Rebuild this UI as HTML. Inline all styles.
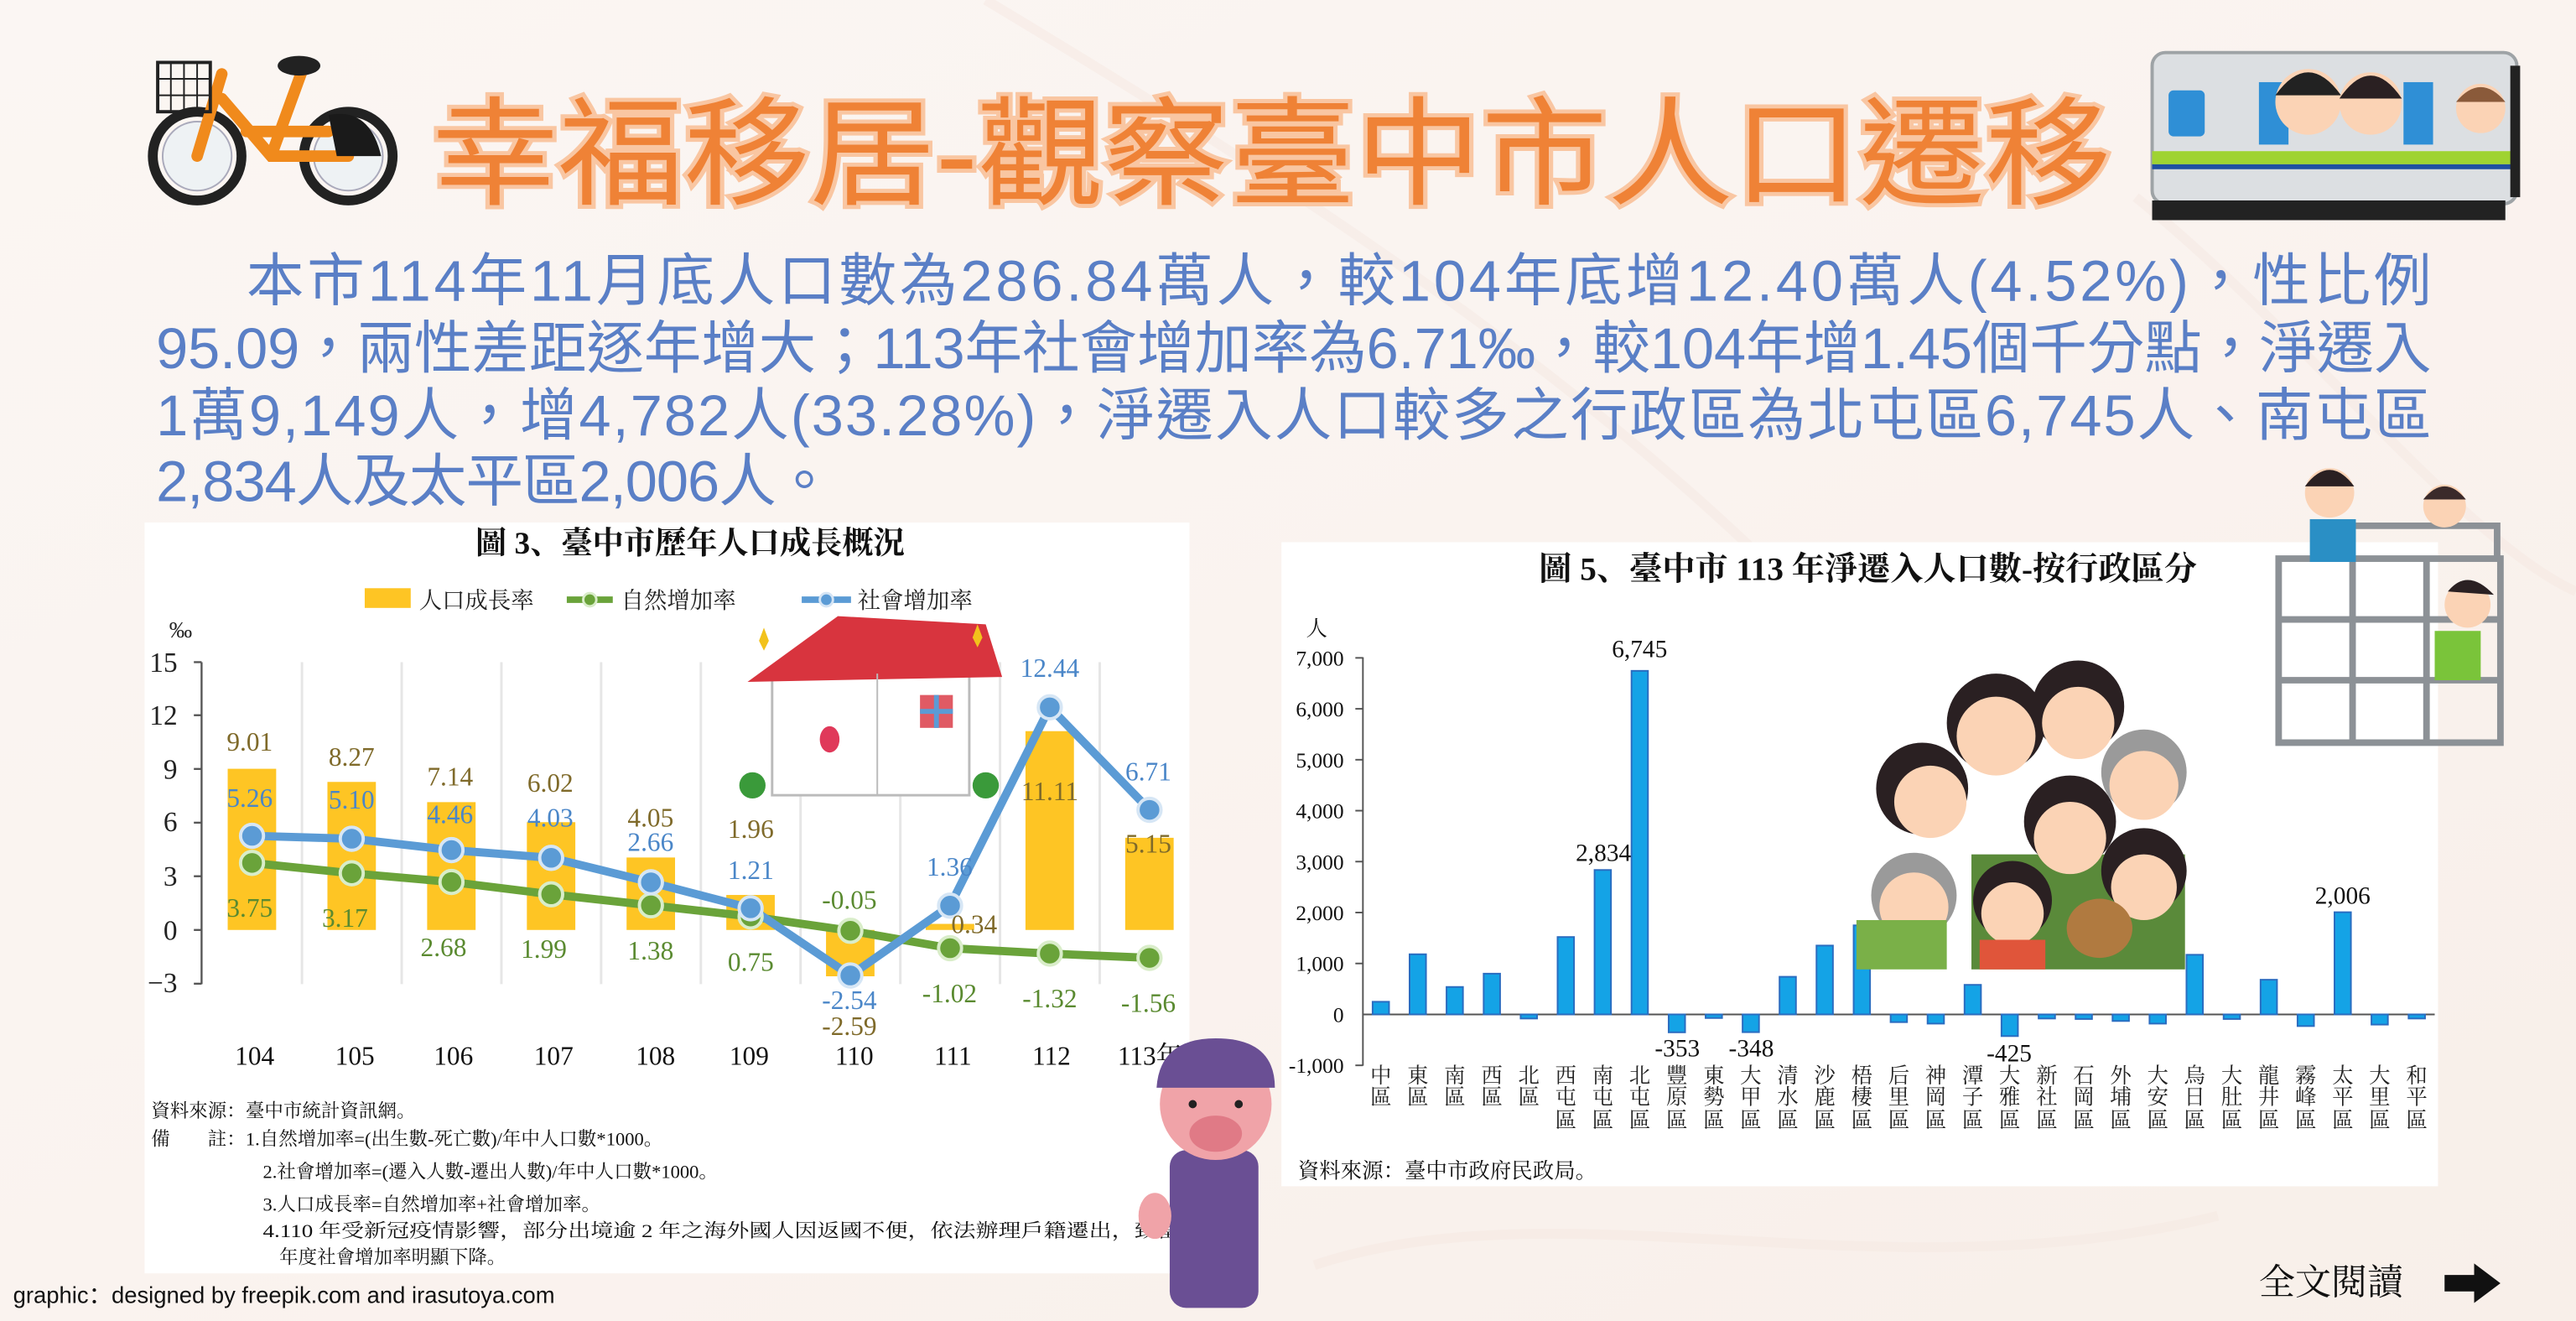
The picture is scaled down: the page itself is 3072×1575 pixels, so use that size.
<!DOCTYPE html>
<html><head><meta charset="utf-8">
<style>
html,body{margin:0;padding:0;width:3072px;height:1575px;overflow:hidden;background:#faf4f0;}
svg{display:block}
.cjk{font-family:"Liberation Sans","Noto Sans CJK TC",sans-serif;}
.ser{font-family:"Liberation Serif","Noto Serif CJK SC",serif;}
</style></head><body>
<svg width="3072" height="1575" viewBox="0 0 1568 804" preserveAspectRatio="none" xmlns="http://www.w3.org/2000/svg">
<defs>
<linearGradient id="bg" x1="0" y1="0" x2="1" y2="1">
<stop offset="0" stop-color="#fbf6f3"/><stop offset="0.5" stop-color="#faf3ef"/><stop offset="1" stop-color="#f8efe9"/>
</linearGradient>
</defs>
<rect width="1568" height="804" fill="url(#bg)"/>
<g fill="none" stroke="#f3e6df" stroke-width="6" opacity="0.45">
<path d="M600 0 C800 120 1000 250 1150 420"/>
<path d="M1300 120 C1400 200 1500 330 1568 360"/>
<path d="M800 770 C950 720 1150 790 1350 740"/>
</g>

<!-- bicycle -->
<g>
<circle cx="120" cy="95" r="27" fill="none" stroke="#222" stroke-width="6"/>
<circle cx="120" cy="95" r="21" fill="#eef2f4" stroke="#aab" stroke-width="1"/>
<circle cx="212" cy="95" r="27" fill="none" stroke="#222" stroke-width="6"/>
<circle cx="212" cy="95" r="21" fill="#eef2f4" stroke="#aab" stroke-width="1"/>
<path d="M120 95 L135 45 M135 60 L165 95 L200 95 L212 95 M165 95 L185 40 M150 80 L200 80" stroke="#f08a1c" stroke-width="7" fill="none" stroke-linecap="round"/>
<rect x="96" y="38" width="32" height="30" fill="none" stroke="#222" stroke-width="2"/>
<path d="M104 38v30M112 38v30M120 38v30M96 48h32M96 58h32" stroke="#222" stroke-width="1"/>
<ellipse cx="182" cy="40" rx="13" ry="6" fill="#222"/>
<path d="M200 70 Q225 65 232 95 L205 95Z" fill="#1a1a1a"/>
</g>

<!-- title -->
<text x="263" y="119" textLength="1022" lengthAdjust="spacingAndGlyphs" font-size="72" fill="#ef8236" stroke="#f9c6a2" stroke-width="5" paint-order="stroke" class="cjk">幸福移居-觀察臺中市人口遷移</text>

<!-- train -->
<g>
<rect x="1310" y="32" width="222" height="92" rx="8" fill="#dcdfe2" stroke="#9ea3a6" stroke-width="2"/>
<rect x="1310" y="92" width="222" height="8" fill="#9fd331"/>
<rect x="1310" y="100" width="222" height="3" fill="#1f4fa0"/>
<rect x="1320" y="55" width="22" height="28" rx="3" fill="#2f8fd6"/>
<rect x="1375" y="50" width="18" height="38" fill="#2f8fd6"/>
<rect x="1463" y="50" width="18" height="38" fill="#2f8fd6"/>
<rect x="1310" y="122" width="215" height="12" fill="#222"/>
<circle cx="1405" cy="62" r="20" fill="#fbd3b5"/><path d="M1385 58 Q1405 30 1425 58 Z" fill="#222"/>
<circle cx="1443" cy="63" r="19" fill="#fbd3b5"/><path d="M1424 60 Q1443 32 1462 60 Z" fill="#2a2022"/>
<circle cx="1510" cy="66" r="15" fill="#fbd3b5"/><path d="M1495 62 Q1510 44 1525 62Z" fill="#8a5a3a"/>
<rect x="1528" y="40" width="6" height="80" fill="#222"/>
</g>

<!-- paragraph -->
<g class="cjk" font-size="35" fill="#5a7fc6">
<text x="150" y="183" textLength="1330" lengthAdjust="spacing">本市114年11月底人口數為286.84萬人，較104年底增12.40萬人(4.52%)，性比例</text>
<text x="95" y="224" textLength="1385" lengthAdjust="spacing">95.09，兩性差距逐年增大；113年社會增加率為6.71‰，較104年增1.45個千分點，淨遷入</text>
<text x="95" y="265" textLength="1385" lengthAdjust="spacing">1萬9,149人，增4,782人(33.28%)，淨遷入人口較多之行政區為北屯區6,745人、南屯區</text>
<text x="95" y="305" textLength="412" lengthAdjust="spacing">2,834人及太平區2,006人。</text>
</g>

<!-- LEFT PANEL -->
<rect x="88" y="318" width="636" height="457" fill="#fff"/>
<text x="420" y="337" text-anchor="middle" font-size="19" font-weight="bold" class="ser" fill="#111">圖 3、臺中市歷年人口成長概況</text>
<g font-size="14" class="ser" fill="#222">
<rect x="222" y="358" width="28" height="12" fill="#fec524"/>
<text x="255" y="370">人口成長率</text>
<line x1="345" y1="365" x2="373" y2="365" stroke="#6aa33a" stroke-width="4"/><circle cx="359" cy="365" r="4" fill="#6aa33a" stroke="#d8ecc8" stroke-width="1.5"/>
<text x="378" y="370">自然增加率</text>
<line x1="488" y1="365" x2="518" y2="365" stroke="#5b9bd5" stroke-width="4"/><circle cx="503" cy="365" r="4" fill="#5b9bd5" stroke="#d4e4f4" stroke-width="1.5"/>
<text x="522" y="370">社會增加率</text>
</g>
<g class="ser" font-size="17" fill="#222" text-anchor="end">
<text x="103" y="388" text-anchor="start" font-size="14">‰</text>
<text x="108" y="409">15</text><text x="108" y="441">12</text><text x="108" y="474">9</text>
<text x="108" y="506">6</text><text x="108" y="539">3</text><text x="108" y="572">0</text><text x="108" y="604">−3</text>
</g>
<g stroke="#e6e6e6" stroke-width="1.5">
<line x1="183.8" y1="403" x2="183.8" y2="599"/><line x1="244.5" y1="403" x2="244.5" y2="599"/>
<line x1="305.2" y1="403" x2="305.2" y2="599"/><line x1="365.9" y1="403" x2="365.9" y2="599"/>
<line x1="426.6" y1="403" x2="426.6" y2="599"/><line x1="487.3" y1="403" x2="487.3" y2="599"/>
<line x1="548" y1="403" x2="548" y2="599"/><line x1="608.7" y1="403" x2="608.7" y2="599"/>
<line x1="669.4" y1="403" x2="669.4" y2="599"/>
</g>
<g stroke="#555" stroke-width="1.2">
<line x1="122.7" y1="403" x2="122.7" y2="599"/>
<line x1="118" y1="403" x2="122.7" y2="403"/><line x1="118" y1="435.3" x2="122.7" y2="435.3"/>
<line x1="118" y1="468" x2="122.7" y2="468"/><line x1="118" y1="500.7" x2="122.7" y2="500.7"/>
<line x1="118" y1="533.3" x2="122.7" y2="533.3"/><line x1="118" y1="566" x2="122.7" y2="566"/>
<line x1="118" y1="598.7" x2="122.7" y2="598.7"/>
</g>
<g fill="#fec524">
<rect x="138.6" y="467.9" width="29.5" height="98.1"/>
<rect x="199.3" y="475.9" width="29.5" height="90.1"/>
<rect x="260" y="488.2" width="29.5" height="77.8"/>
<rect x="320.7" y="500.4" width="29.5" height="65.6"/>
<rect x="381.4" y="521.9" width="29.5" height="44.1"/>
<rect x="442.1" y="544.7" width="29.5" height="21.3"/>
<rect x="502.8" y="566" width="29.5" height="28.2"/>
<rect x="563.5" y="562.3" width="29.5" height="3.7"/>
<rect x="624.2" y="445" width="29.5" height="121"/>
<rect x="684.9" y="509.9" width="29.5" height="56.1"/>
</g>

<!-- house illustration -->
<g>
<rect x="470" y="408" width="120" height="76" fill="#fff" stroke="#bbb" stroke-width="1.5"/>
<path d="M455 415 L510 375 L600 380 L610 412 Z" fill="#d8343e"/>
<line x1="534" y1="410" x2="534" y2="484" stroke="#bbb"/>
<rect x="560" y="423" width="20" height="20" fill="#e05a64"/><path d="M570 423v20M560 433h20" stroke="#5b9bd5" stroke-width="3"/>
<ellipse cx="505" cy="450" rx="6" ry="8" fill="#e0395a"/>
<circle cx="458" cy="478" r="8" fill="#3a9a3a"/><circle cx="600" cy="478" r="8" fill="#3a9a3a"/>
<path d="M462 390 l3 -8 l3 8 l-3 6z" fill="#f2c21c"/><path d="M592 388 l3 -8 l3 8 l-3 6z" fill="#f2c21c"/>
</g>

<!-- lines -->
<polyline points="153.4,525.2 214.1,531.5 274.8,536.8 335.5,544.3 396.2,551 456.9,557.8 517.6,566.5 578.3,577.1 639,580.4 699.7,583" fill="none" stroke="#6aa33a" stroke-width="5"/>
<polyline points="153.4,508.7 214.1,510.5 274.8,517.4 335.5,522.1 396.2,537 456.9,552.8 517.6,593.7 578.3,551.2 639,430.5 699.7,492.9" fill="none" stroke="#5b9bd5" stroke-width="5"/>
<g fill="#6aa33a" stroke="#d9edc9" stroke-width="2">
<circle cx="153.4" cy="525.2" r="7"/><circle cx="214.1" cy="531.5" r="7"/><circle cx="274.8" cy="536.8" r="7"/>
<circle cx="335.5" cy="544.3" r="7"/><circle cx="396.2" cy="551" r="7"/><circle cx="456.9" cy="557.8" r="7"/>
<circle cx="517.6" cy="566.5" r="7"/><circle cx="578.3" cy="577.1" r="7"/><circle cx="639" cy="580.4" r="7"/><circle cx="699.7" cy="583" r="7"/>
</g>
<g fill="#5b9bd5" stroke="#d6e6f5" stroke-width="2">
<circle cx="153.4" cy="508.7" r="7"/><circle cx="214.1" cy="510.5" r="7"/><circle cx="274.8" cy="517.4" r="7"/>
<circle cx="335.5" cy="522.1" r="7"/><circle cx="396.2" cy="537" r="7"/><circle cx="456.9" cy="552.8" r="7"/>
<circle cx="517.6" cy="593.7" r="7"/><circle cx="578.3" cy="551.2" r="7"/><circle cx="639" cy="430.5" r="7"/><circle cx="699.7" cy="492.9" r="7"/>
</g>
<g class="ser" font-size="16" text-anchor="middle" fill="#7f6a2a">
<text x="152" y="457">9.01</text><text x="214" y="466">8.27</text><text x="274" y="478">7.14</text>
<text x="335" y="482">6.02</text><text x="396" y="503">4.05</text><text x="457" y="510">1.96</text>
<text x="517" y="630">-2.59</text><text x="593" y="568">0.34</text><text x="639" y="487">11.11</text><text x="699" y="519">5.15</text>
</g>
<g class="ser" font-size="16" text-anchor="middle" fill="#4a86c8">
<text x="152" y="491">5.26</text><text x="214" y="492">5.10</text><text x="274" y="501">4.46</text>
<text x="335" y="503">4.03</text><text x="396" y="518">2.66</text><text x="457" y="535">1.21</text>
<text x="517" y="614">-2.54</text><text x="578" y="533">1.36</text><text x="639" y="412">12.44</text><text x="699" y="475">6.71</text>
</g>
<g class="ser" font-size="16" text-anchor="middle" fill="#5a8a30">
<text x="152" y="558">3.75</text><text x="210" y="564">3.17</text><text x="270" y="582">2.68</text>
<text x="331" y="583">1.99</text><text x="396" y="584">1.38</text><text x="457" y="591">0.75</text>
<text x="517" y="553">-0.05</text><text x="578" y="610">-1.02</text><text x="639" y="613">-1.32</text><text x="699" y="616">-1.56</text>
</g>
<g class="ser" font-size="16" text-anchor="middle" fill="#111">
<text x="155" y="648">104</text><text x="216" y="648">105</text><text x="276" y="648">106</text>
<text x="337" y="648">107</text><text x="399" y="648">108</text><text x="456" y="648">109</text>
<text x="520" y="648">110</text><text x="580" y="648">111</text><text x="640" y="648">112</text><text x="700" y="648">113年</text>
</g>
<g class="ser" font-size="11.5" fill="#111">
<text x="92" y="680">資料來源：臺中市統計資訊網。</text>
<text x="92" y="697">備　　註：1.自然增加率=(出生數-死亡數)/年中人口數*1000。</text>
<text x="160" y="717">2.社會增加率=(遷入人數-遷出人數)/年中人口數*1000。</text>
<text x="160" y="737">3.人口成長率=自然增加率+社會增加率。</text>
<text x="160" y="753" textLength="558" lengthAdjust="spacingAndGlyphs">4.110 年受新冠疫情影響，部分出境逾 2 年之海外國人因返國不便，依法辦理戶籍遷出，致當</text>
<text x="170" y="769">年度社會增加率明顯下降。</text>
</g>

<!-- pig -->
<g>
<rect x="712" y="700" width="54" height="96" rx="10" fill="#6a4f94"/>
<ellipse cx="740" cy="672" rx="34" ry="34" fill="#f0a3a8"/>
<path d="M704 662 Q706 632 740 632 Q776 632 776 662 Z" fill="#6a4f94"/>
<ellipse cx="740" cy="690" rx="16" ry="11" fill="#e07a86"/>
<circle cx="726" cy="672" r="2.5" fill="#222"/><circle cx="754" cy="672" r="2.5" fill="#222"/>
<ellipse cx="703" cy="740" rx="10" ry="14" fill="#f0a3a8"/>
</g>

<!-- RIGHT PANEL -->
<rect x="780" y="330" width="704" height="392" fill="#fff"/>
<text x="1137" y="353" text-anchor="middle" font-size="20" font-weight="bold" class="ser" fill="#111">圖 5、臺中市 113 年淨遷入人口數-按行政區分</text>
<text x="795" y="387" font-size="13" class="ser" fill="#111">人</text>
<g class="ser" font-size="13" fill="#111" text-anchor="end">
<text x="818" y="405">7,000</text><text x="818" y="436">6,000</text><text x="818" y="467">5,000</text>
<text x="818" y="498">4,000</text><text x="818" y="529">3,000</text><text x="818" y="560">2,000</text>
<text x="818" y="591">1,000</text><text x="818" y="622">0</text><text x="818" y="653">-1,000</text>
</g>
<g stroke="#555" stroke-width="1">
<line x1="829.6" y1="400" x2="829.6" y2="648.6"/>
<line x1="825" y1="400.4" x2="829.6" y2="400.4"/><line x1="825" y1="431.4" x2="829.6" y2="431.4"/>
<line x1="825" y1="462.4" x2="829.6" y2="462.4"/><line x1="825" y1="493.4" x2="829.6" y2="493.4"/>
<line x1="825" y1="524.4" x2="829.6" y2="524.4"/><line x1="825" y1="555.4" x2="829.6" y2="555.4"/>
<line x1="825" y1="586.4" x2="829.6" y2="586.4"/><line x1="825" y1="648.4" x2="829.6" y2="648.4"/>
<line x1="829.6" y1="617.4" x2="1482" y2="617.4"/>
</g>
<g fill="#14a3e6" stroke="#2a6cc0" stroke-width="1">
<rect x="835.5" y="609.7" width="10" height="7.7"/>
<rect x="858" y="580.8" width="10" height="36.6"/>
<rect x="880.5" y="600.7" width="10" height="16.7"/>
<rect x="903.1" y="592.6" width="10" height="24.8"/>
<rect x="925.6" y="617.4" width="10" height="2.5"/>
<rect x="948.1" y="570.3" width="10" height="47.1"/>
<rect x="970.6" y="529.5" width="10" height="87.9"/>
<rect x="993.1" y="408.3" width="10" height="209.1"/>
<rect x="1015.7" y="617.4" width="10" height="10.9"/>
<rect x="1038.2" y="617.4" width="10" height="2.2"/>
<rect x="1060.7" y="617.4" width="10" height="10.8"/>
<rect x="1083.2" y="594.5" width="10" height="22.9"/>
<rect x="1105.7" y="575.5" width="10" height="41.9"/>
<rect x="1128.3" y="563.2" width="10" height="54.2"/>
<rect x="1150.8" y="617.4" width="10" height="4.7"/>
<rect x="1173.3" y="617.4" width="10" height="5.6"/>
<rect x="1195.8" y="599.4" width="10" height="18"/>
<rect x="1218.3" y="617.4" width="10" height="13.2"/>
<rect x="1240.9" y="617.4" width="10" height="2.5"/>
<rect x="1263.4" y="617.4" width="10" height="2.8"/>
<rect x="1285.9" y="617.4" width="10" height="4"/>
<rect x="1308.4" y="617.4" width="10" height="5.6"/>
<rect x="1330.9" y="581.1" width="10" height="36.3"/>
<rect x="1353.5" y="617.4" width="10" height="2.8"/>
<rect x="1376" y="596.3" width="10" height="21.1"/>
<rect x="1398.5" y="617.4" width="10" height="7.1"/>
<rect x="1421" y="555.2" width="10" height="62.2"/>
<rect x="1443.5" y="617.4" width="10" height="6.2"/>
<rect x="1466.1" y="617.4" width="10" height="2.5"/>
</g>
<g class="ser" font-size="15" fill="#111" text-anchor="middle">
<text x="998" y="400">6,745</text><text x="976" y="524">2,834</text><text x="1426" y="550">2,006</text>
<text x="1021" y="643">-353</text><text x="1066" y="643">-348</text><text x="1223" y="646">-425</text>
</g>
<g class="ser" font-size="13" fill="#222" text-anchor="middle">
<text x="840.5" y="659">中</text><text x="840.5" y="672">區</text>
<text x="863" y="659">東</text><text x="863" y="672">區</text>
<text x="885.5" y="659">南</text><text x="885.5" y="672">區</text>
<text x="908.1" y="659">西</text><text x="908.1" y="672">區</text>
<text x="930.6" y="659">北</text><text x="930.6" y="672">區</text>
<text x="953.1" y="659">西</text><text x="953.1" y="672">屯</text><text x="953.1" y="686">區</text>
<text x="975.6" y="659">南</text><text x="975.6" y="672">屯</text><text x="975.6" y="686">區</text>
<text x="998.1" y="659">北</text><text x="998.1" y="672">屯</text><text x="998.1" y="686">區</text>
<text x="1020.7" y="659">豐</text><text x="1020.7" y="672">原</text><text x="1020.7" y="686">區</text>
<text x="1043.2" y="659">東</text><text x="1043.2" y="672">勢</text><text x="1043.2" y="686">區</text>
<text x="1065.7" y="659">大</text><text x="1065.7" y="672">甲</text><text x="1065.7" y="686">區</text>
<text x="1088.2" y="659">清</text><text x="1088.2" y="672">水</text><text x="1088.2" y="686">區</text>
<text x="1110.7" y="659">沙</text><text x="1110.7" y="672">鹿</text><text x="1110.7" y="686">區</text>
<text x="1133.3" y="659">梧</text><text x="1133.3" y="672">棲</text><text x="1133.3" y="686">區</text>
<text x="1155.8" y="659">后</text><text x="1155.8" y="672">里</text><text x="1155.8" y="686">區</text>
<text x="1178.3" y="659">神</text><text x="1178.3" y="672">岡</text><text x="1178.3" y="686">區</text>
<text x="1200.8" y="659">潭</text><text x="1200.8" y="672">子</text><text x="1200.8" y="686">區</text>
<text x="1223.3" y="659">大</text><text x="1223.3" y="672">雅</text><text x="1223.3" y="686">區</text>
<text x="1245.9" y="659">新</text><text x="1245.9" y="672">社</text><text x="1245.9" y="686">區</text>
<text x="1268.4" y="659">石</text><text x="1268.4" y="672">岡</text><text x="1268.4" y="686">區</text>
<text x="1290.9" y="659">外</text><text x="1290.9" y="672">埔</text><text x="1290.9" y="686">區</text>
<text x="1313.4" y="659">大</text><text x="1313.4" y="672">安</text><text x="1313.4" y="686">區</text>
<text x="1335.9" y="659">烏</text><text x="1335.9" y="672">日</text><text x="1335.9" y="686">區</text>
<text x="1358.5" y="659">大</text><text x="1358.5" y="672">肚</text><text x="1358.5" y="686">區</text>
<text x="1381" y="659">龍</text><text x="1381" y="672">井</text><text x="1381" y="686">區</text>
<text x="1403.5" y="659">霧</text><text x="1403.5" y="672">峰</text><text x="1403.5" y="686">區</text>
<text x="1426" y="659">太</text><text x="1426" y="672">平</text><text x="1426" y="686">區</text>
<text x="1448.5" y="659">大</text><text x="1448.5" y="672">里</text><text x="1448.5" y="686">區</text>
<text x="1471.1" y="659">和</text><text x="1471.1" y="672">平</text><text x="1471.1" y="686">區</text>
</g>
<text x="790" y="717" class="ser" font-size="13" fill="#111">資料來源：臺中市政府民政局。</text>

<!-- family illustration -->
<g>
<rect x="1200" y="520" width="130" height="70" fill="#5a8a3a"/>
<circle cx="1215" cy="440" r="30" fill="#2a2022"/><circle cx="1215" cy="448" r="24" fill="#fbd3b5"/>
<circle cx="1265" cy="430" r="28" fill="#2a2022"/><circle cx="1265" cy="440" r="22" fill="#fbd3b5"/>
<circle cx="1170" cy="480" r="28" fill="#2a2022"/><circle cx="1175" cy="488" r="22" fill="#fbd3b5"/>
<circle cx="1305" cy="470" r="26" fill="#9a9a9a"/><circle cx="1305" cy="478" r="21" fill="#fbd3b5"/>
<circle cx="1260" cy="500" r="28" fill="#2a2022"/><circle cx="1260" cy="510" r="22" fill="#fbd3b5"/>
<circle cx="1165" cy="545" r="26" fill="#9a9a9a"/><circle cx="1165" cy="552" r="21" fill="#fbd3b5"/>
<circle cx="1225" cy="548" r="24" fill="#2a2022"/><circle cx="1225" cy="556" r="19" fill="#fbd3b5"/>
<circle cx="1305" cy="530" r="26" fill="#2a2022"/><circle cx="1305" cy="540" r="20" fill="#fbd3b5"/>
<ellipse cx="1278" cy="565" rx="20" ry="18" fill="#b07a40"/>
<rect x="1130" y="560" width="55" height="30" fill="#7ab048"/>
<rect x="1205" y="572" width="40" height="18" fill="#e0553a"/>
</g>

<!-- jungle gym & kids -->
<g>
<g stroke="#8c9196" stroke-width="4" fill="none">
<rect x="1387" y="340" width="135" height="112"/>
<path d="M1387 377h135M1387 414h135M1432 340v112M1477 340v112M1420 320h100v20"/>
</g>
<circle cx="1418" cy="300" r="15" fill="#fbd3b5"/><path d="M1403 296 Q1418 276 1433 296Z" fill="#2a2022"/>
<rect x="1406" y="316" width="28" height="26" fill="#2a8fc5"/>
<circle cx="1488" cy="308" r="13" fill="#fbd3b5"/><path d="M1475 304 Q1488 288 1501 304Z" fill="#3a2a2a"/>
<circle cx="1502" cy="368" r="14" fill="#fbd3b5"/><path d="M1490 360 Q1502 345 1518 362Z" fill="#2a2022"/>
<rect x="1482" y="384" width="28" height="30" fill="#7ac43a"/>
</g>

<!-- footer -->
<text x="8" y="793" font-size="14" font-family="Liberation Sans, sans-serif" fill="#111">graphic：designed by freepik.com and irasutoya.com</text>
<text x="1375" y="788" font-size="22" class="ser" fill="#111">全文閱讀</text>
<path d="M1488 776 h18 v-7 l16 12 l-16 12 v-7 h-18z" fill="#111"/>
</svg>
</body></html>
